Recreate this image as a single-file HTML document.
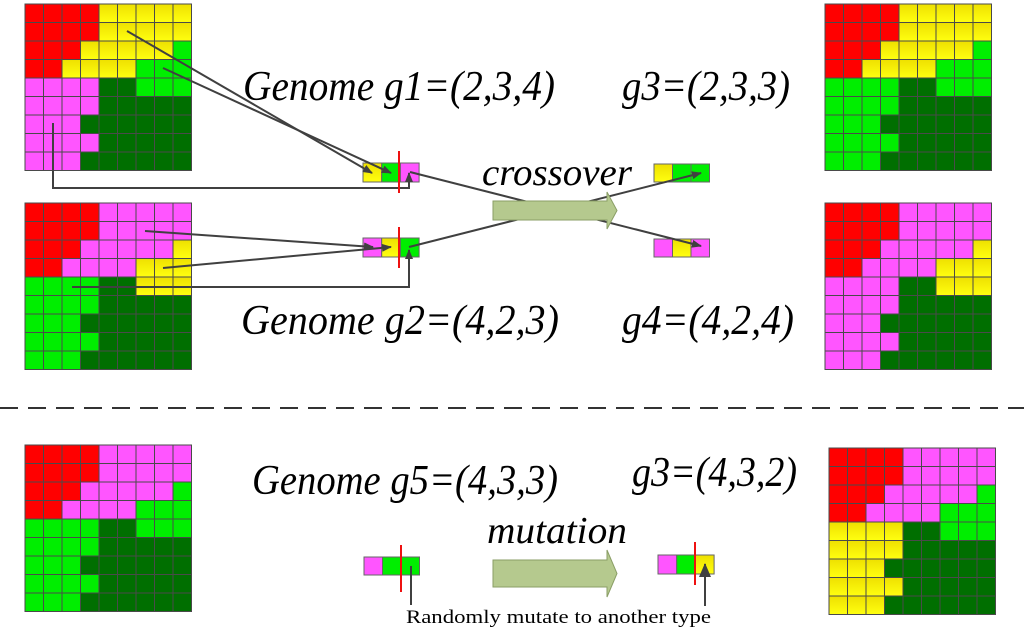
<!DOCTYPE html>
<html><head><meta charset="utf-8"><style>
html,body{margin:0;padding:0;background:#fff;}
svg{display:block;}
text{font-family:"Liberation Serif",serif;fill:#000;}
.it{font-style:italic;font-size:42px;}
</style></head><body>
<svg id="s" width="1024" height="632" viewBox="0 0 1024 632" xmlns="http://www.w3.org/2000/svg">
<defs>
<marker id="ah" markerWidth="10" markerHeight="8" refX="9" refY="4" orient="auto" markerUnits="userSpaceOnUse">
<path d="M0,0 L10,4 L0,8 z" fill="#404040"/>
</marker>
<marker id="ah2" markerWidth="14" markerHeight="12" refX="13" refY="6" orient="auto" markerUnits="userSpaceOnUse">
<path d="M0,0 L14,6 L0,12 z" fill="#404040"/>
</marker>
<linearGradient id="gy" x1="0" y1="0" x2="0" y2="1"><stop offset="0" stop-color="#eee000"/><stop offset="1" stop-color="#ffff10"/></linearGradient>
</defs>
<g id="grids"></g>

<!-- chromosomes -->
<g stroke="#666" stroke-width="1">
<rect x="363" y="163" width="18.7" height="19" fill="url(#gy)"/><rect x="381.7" y="163" width="18.7" height="19" fill="#00ee00"/><rect x="400.4" y="163" width="18.7" height="19" fill="#ff55ff"/>
<rect x="363" y="238" width="18.7" height="19" fill="#ff55ff"/><rect x="381.7" y="238" width="18.7" height="19" fill="url(#gy)"/><rect x="400.4" y="238" width="18.7" height="19" fill="#00ee00"/>
<rect x="654" y="164" width="18.5" height="18" fill="url(#gy)"/><rect x="672.5" y="164" width="18.5" height="18" fill="#00ee00"/><rect x="691" y="164" width="18.5" height="18" fill="#00ee00"/>
<rect x="654" y="239" width="18.5" height="18" fill="#ff55ff"/><rect x="672.5" y="239" width="18.5" height="18" fill="url(#gy)"/><rect x="691" y="239" width="18.5" height="18" fill="#ff55ff"/>
<rect x="364" y="557" width="18.5" height="18" fill="#ff55ff"/><rect x="382.5" y="557" width="18.5" height="18" fill="#00ee00"/><rect x="401" y="557" width="18.5" height="18" fill="#00ee00"/>
<rect x="658" y="555" width="18.7" height="19" fill="#ff55ff"/><rect x="676.7" y="555" width="18.7" height="19" fill="#00ee00"/><rect x="695.4" y="555" width="18.7" height="19" fill="url(#gy)"/>
</g>

<!-- connectors -->
<g stroke="#404040" stroke-width="2" fill="none">
<line x1="127" y1="31" x2="372" y2="173" marker-end="url(#ah)"/>
<line x1="163" y1="68" x2="391" y2="173" marker-end="url(#ah)"/>
<polyline points="53,123 53,188 409,188 409,173" marker-end="url(#ah)"/>
<line x1="145" y1="231" x2="373" y2="247" marker-end="url(#ah)"/>
<line x1="163" y1="268" x2="391" y2="247" marker-end="url(#ah)"/>
<polyline points="72,287 409,287 409,250" marker-end="url(#ah)"/>
<line x1="410" y1="172" x2="701" y2="246" marker-end="url(#ah)"/>
<line x1="409" y1="247" x2="701" y2="173" marker-end="url(#ah)"/>
<line x1="411" y1="566" x2="411" y2="605"/>
<line x1="705" y1="606" x2="705" y2="564" marker-end="url(#ah2)"/>
</g>

<!-- red cut lines -->
<g stroke="#ee1111" stroke-width="2">
<line x1="399" y1="151" x2="399" y2="193"/>
<line x1="399" y1="227" x2="399" y2="268"/>
<line x1="401" y1="545" x2="401" y2="592"/>
<line x1="695" y1="542" x2="695" y2="585"/>
</g>

<!-- big arrows -->
<path d="M493,201 L607,201 L607,192 L617,210.5 L607,229 L607,220 L493,220 z" fill="#b5c98e" stroke="#8a9e66" stroke-width="1"/>
<path d="M493,560 L607,560 L607,550 L617,573.5 L607,597 L607,587 L493,587 z" fill="#b5c98e" stroke="#8a9e66" stroke-width="1"/>

<!-- dashed separator -->
<line x1="0" y1="408" x2="1024" y2="408" stroke="#333" stroke-width="2" stroke-dasharray="18,10"/>

<!-- labels -->
<text class="it" x="243" y="100" textLength="312" lengthAdjust="spacingAndGlyphs">Genome g1=(2,3,4)</text>
<text class="it" x="622" y="100" textLength="168" lengthAdjust="spacingAndGlyphs">g3=(2,3,3)</text>
<text class="it" x="482" y="185" textLength="150" lengthAdjust="spacingAndGlyphs" style="font-size:38px">crossover</text>
<text class="it" x="241" y="334" textLength="318" lengthAdjust="spacingAndGlyphs">Genome g2=(4,2,3)</text>
<text class="it" x="622" y="334" textLength="172" lengthAdjust="spacingAndGlyphs">g4=(4,2,4)</text>
<text class="it" x="252" y="494" textLength="306" lengthAdjust="spacingAndGlyphs">Genome g5=(4,3,3)</text>
<text class="it" x="632" y="486" textLength="165" lengthAdjust="spacingAndGlyphs">g3=(4,3,2)</text>
<text class="it" x="487" y="543" textLength="140" lengthAdjust="spacingAndGlyphs" style="font-size:38px">mutation</text>
<text x="406" y="623" textLength="305" lengthAdjust="spacingAndGlyphs" style="font-size:19px">Randomly mutate to another type</text>
</svg>
<script>
(function(){
var P=["AAAABBBBB","AAAABBBBB","AAABBBBBC","AABBBBCCC","DDDDEECCC","DDDDEEEEE","DDDEEEEEE","DDDDEEEEE","DDDEEEEEE"];
var C={R:"#ff0000",Y:"url(#gy)",P:"#ff55ff",G:"#00ee00",E:"#006f00"};
var grids=[
 [25,4,"Y","G","P"],
 [25,203,"P","Y","G"],
 [825,4,"Y","G","G"],
 [825,203,"P","Y","P"],
 [25,445,"P","G","G"],
 [829,448,"P","G","Y"]
];
var g=document.getElementById("grids"),ns="http://www.w3.org/2000/svg",s=18.5;
grids.forEach(function(d){
 var m={A:"R",B:d[2],C:d[3],D:d[4],E:"E"};
 for(var r=0;r<9;r++)for(var c=0;c<9;c++){
  var e=document.createElementNS(ns,"rect");
  e.setAttribute("x",d[0]+c*s);e.setAttribute("y",d[1]+r*s);
  e.setAttribute("width",s);e.setAttribute("height",s);
  e.setAttribute("fill",C[m[P[r][c]]]);
  e.setAttribute("stroke","#4a4a4a");e.setAttribute("stroke-width","1");
  g.appendChild(e);
 }
});
})();
</script>
</body></html>
